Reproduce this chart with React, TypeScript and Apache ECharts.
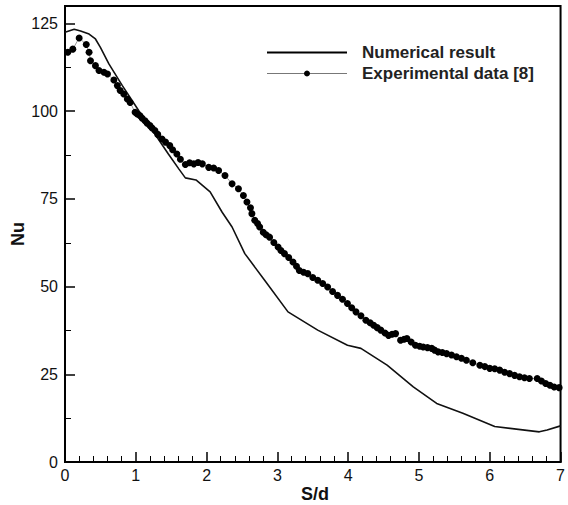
import React, { useEffect, useRef } from "react";
import * as echarts from "echarts";

const FONT = "'Liberation Sans', Arial, sans-serif";

const xTicks = [0, 1, 2, 3, 4, 5, 6, 7];
const yMajorTicks = [0, 25, 50, 75, 100, 125];
const yMinorTicks = [12.5, 37.5, 62.5, 87.5, 112.5];

const numX = [0, 0.13, 0.22, 0.34, 0.43, 0.5, 0.62, 0.81, 1.04, 1.27, 1.46, 1.61, 1.7, 1.85, 2.05, 2.22, 2.36, 2.54, 2.82, 3.15, 3.57, 3.99, 4.18, 4.55, 4.92, 5.25, 5.62, 6.07, 6.7, 6.81, 7.0];
const numY = [122.5, 123.4, 122.9, 122, 120.6, 118.2, 113.5, 107.3, 100.2, 93.5, 87.8, 83.5, 81, 80.4, 77, 71.2, 67, 59.4, 51.8, 42.8, 37.6, 33.3, 32.4, 27.6, 21.4, 16.7, 13.9, 10.1, 8.6, 9.1, 10.3];

const expX = [0.04, 0.11, 0.2, 0.3, 0.34, 0.36, 0.43, 0.48, 0.55, 0.6, 0.69, 0.74, 0.78, 0.83, 0.88, 0.92, 0.99, 1.02, 1.06, 1.09, 1.13, 1.16, 1.2, 1.23, 1.27, 1.31, 1.37, 1.42, 1.48, 1.52, 1.58, 1.63, 1.7, 1.76, 1.82, 1.88, 1.94, 2.03, 2.1, 2.17, 2.26, 2.36, 2.45, 2.52, 2.57, 2.62, 2.64, 2.68, 2.72, 2.75, 2.8, 2.84, 2.89, 2.95, 3.01, 3.05, 3.1, 3.16, 3.22, 3.27, 3.31, 3.37, 3.43, 3.5, 3.57, 3.64, 3.71, 3.78, 3.85, 3.92, 3.99, 4.05, 4.11, 4.18, 4.25, 4.31, 4.36, 4.41, 4.46, 4.52, 4.57, 4.62, 4.67, 4.74, 4.79, 4.83, 4.89, 4.95, 5.01, 5.06, 5.12, 5.18, 5.22, 5.27, 5.33, 5.39, 5.46, 5.53, 5.6, 5.67, 5.76, 5.86, 5.93, 6.0, 6.07, 6.14, 6.21, 6.28, 6.35, 6.42, 6.49, 6.56, 6.67, 6.73, 6.79, 6.85, 6.91, 6.98];
const expY = [116.8, 117.7, 120.9, 119, 116.8, 114.4, 113, 111.6, 111.1, 110.6, 108.9, 107.3, 105.9, 104.9, 103.5, 102.5, 99.7, 99.2, 98.7, 98, 97.3, 96.6, 95.9, 95.2, 94.5, 93.4, 92.1, 91.2, 90.2, 89, 87.8, 86.3, 84.8, 85.3, 85, 85.4, 85, 84, 83.8, 83.1, 81.7, 79.3, 77.9, 76, 74.1, 72.5, 70.8, 68.9, 68, 67, 65.5, 64.8, 64.1, 62.6, 61.3, 60.3, 59.4, 58.3, 57, 55.8, 54.6, 54.1, 53.7, 52.6, 51.8, 50.9, 49.9, 48.6, 47.5, 46.4, 45.2, 44, 42.8, 41.7, 40.4, 39.7, 39, 38.3, 37.6, 36.8, 36.1, 36.4, 36.6, 34.7, 35, 35.2, 34.2, 33.3, 33, 32.8, 32.6, 32.4, 31.9, 31.4, 31.2, 30.9, 30.5, 30, 29.6, 29, 28.3, 27.6, 27.2, 26.7, 26.6, 26.2, 25.6, 25.2, 24.7, 24.3, 24, 23.8, 23.8, 23.1, 22.4, 21.9, 21.4, 21.2];

export default function App() {
  const ref = useRef<HTMLDivElement>(null);

  useEffect(() => {
    document.body.style.margin = "0";
    if (!ref.current) return;
    const chart = echarts.init(ref.current, undefined, { renderer: "svg" });

    const numData = numX.map((x, i) => [x, numY[i]]);
    const expData = expX.map((x, i) => [x, expY[i]]);

    const labelStyle = { fontSize: 16, color: "#111", fontFamily: FONT };

    chart.setOption({
      animation: false,
      backgroundColor: "#fff",
      grid: {
        left: 65,
        right: 3,
        top: 6,
        bottom: 43,
        show: true,
        borderColor: "#000",
        borderWidth: 2,
      },
      xAxis: {
        type: "value",
        min: 0,
        max: 7,
        interval: 1,
        axisLine: { show: true, lineStyle: { color: "#000", width: 2 } },
        axisTick: { show: true, inside: true, length: 10, lineStyle: { color: "#000", width: 1.5 } },
        minorTick: { show: true, splitNumber: 5, length: 6, lineStyle: { color: "#000", width: 1 } },
        splitLine: { show: false },
        minorSplitLine: { show: false },
        axisLabel: { ...labelStyle, margin: 5, customValues: xTicks },
      },
      yAxis: [
        {
          type: "value",
          min: 0,
          max: 130,
          position: "left",
          axisLine: { show: true, lineStyle: { color: "#000", width: 2 } },
          axisTick: { show: true, inside: true, length: 10, customValues: yMajorTicks, lineStyle: { color: "#000", width: 1.5 } },
          splitLine: { show: false },
          axisLabel: { ...labelStyle, margin: 7, customValues: yMajorTicks },
        },
        {
          type: "value",
          min: 0,
          max: 130,
          position: "left",
          axisLine: { show: false },
          axisTick: { show: true, inside: true, length: 6, customValues: yMinorTicks, lineStyle: { color: "#000", width: 1 } },
          splitLine: { show: false },
          axisLabel: { show: false },
        },
      ],
      series: [
        {
          name: "Numerical result",
          type: "line",
          data: numData,
          yAxisIndex: 0,
          showSymbol: false,
          symbol: "none",
          lineStyle: { color: "#111", width: 1.6 },
          z: 3,
        },
        {
          name: "Experimental data [8]",
          type: "line",
          data: expData,
          yAxisIndex: 0,
          symbol: "circle",
          symbolSize: 7,
          itemStyle: { color: "#000" },
          lineStyle: { color: "#999", width: 1 },
          z: 4,
        },
      ],
      graphic: [
        { type: "line", shape: { x1: 267, y1: 52.5, x2: 347, y2: 52.5 }, style: { stroke: "#000", lineWidth: 2 } },
        { type: "line", shape: { x1: 267, y1: 73.5, x2: 347, y2: 73.5 }, style: { stroke: "#777", lineWidth: 1 } },
        { type: "circle", shape: { cx: 307, cy: 73.5, r: 3 }, style: { fill: "#000" } },
        {
          type: "text",
          x: 362,
          y: 52,
          style: { text: "Numerical result", font: `bold 17px ${FONT}`, fill: "#222", textAlign: "left", textVerticalAlign: "middle" },
        },
        {
          type: "text",
          x: 362,
          y: 73,
          style: { text: "Experimental data [8]", font: `bold 17px ${FONT}`, fill: "#222", textAlign: "left", textVerticalAlign: "middle" },
        },
        {
          type: "text",
          x: 315,
          y: 494,
          style: { text: "S/d", font: `bold 18px ${FONT}`, fill: "#111", textAlign: "center", textVerticalAlign: "middle" },
        },
        {
          type: "text",
          x: 18,
          y: 234,
          rotation: Math.PI / 2,
          style: { text: "Nu", font: `bold 18px ${FONT}`, fill: "#111", textAlign: "center", textVerticalAlign: "middle" },
        },
      ],
    });

    return () => chart.dispose();
  }, []);

  return <div ref={ref} style={{ width: 568, height: 505, position: "absolute", left: 0, top: 0 }} />;
}
